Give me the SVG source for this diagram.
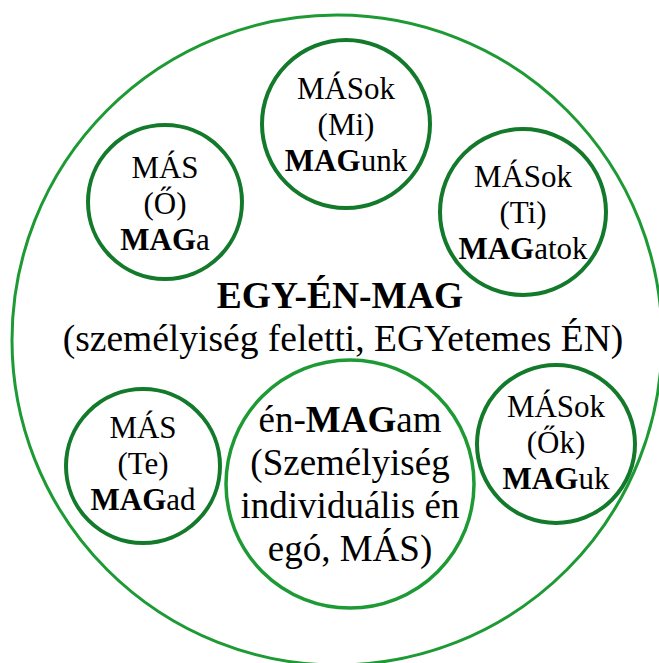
<svg xmlns="http://www.w3.org/2000/svg" width="659" height="663" viewBox="0 0 659 663">
<style>
text{font-family:"Liberation Serif","Times New Roman",serif;fill:#000;text-anchor:middle}
.s{font-size:31px}
.m{font-size:37px}
.l{font-size:37.5px}
.b{font-weight:bold}
.outer{fill:none;stroke:#1d9a34;stroke-width:3}
.dark{fill:#fff;stroke:#127a2a;stroke-width:4}
.bright{fill:#fff;stroke:#1d9a34;stroke-width:3.5}
</style>
<rect width="659" height="663" fill="#fff"/>
<g id="egy-en-mag">
<circle class="outer" cx="337" cy="340" r="325"/>
<text class="l b" x="340" y="308">EGY-ÉN-MAG</text>
<text class="l" x="343" y="351">(személyiség feletti, EGYetemes ÉN)</text>
</g>
<g id="mi">
<circle class="dark" cx="346" cy="124" r="84"/>
<text class="s" x="346" y="99">MÁSok</text>
<text class="s" x="346" y="135">(Mi)</text>
<text class="s" x="346" y="171"><tspan class="b">MAG</tspan>unk</text>
</g>
<g id="o">
<circle class="dark" cx="165" cy="202" r="77"/>
<text class="s" x="165" y="178">MÁS</text>
<text class="s" x="165" y="214">(Ő)</text>
<text class="s" x="165" y="250"><tspan class="b">MAG</tspan>a</text>
</g>
<g id="ti">
<circle class="dark" cx="523" cy="212" r="83"/>
<text class="s" x="523" y="187">MÁSok</text>
<text class="s" x="523" y="223">(Ti)</text>
<text class="s" x="523" y="259"><tspan class="b">MAG</tspan>atok</text>
</g>
<g id="ok">
<circle class="dark" cx="556" cy="444" r="79"/>
<text class="s" x="556" y="417">MÁSok</text>
<text class="s" x="556" y="453">(Ők)</text>
<text class="s" x="556" y="489"><tspan class="b">MAG</tspan>uk</text>
</g>
<g id="te">
<circle class="dark" cx="143" cy="466" r="77"/>
<text class="s" x="143" y="438">MÁS</text>
<text class="s" x="143" y="474">(Te)</text>
<text class="s" x="143" y="510"><tspan class="b">MAG</tspan>ad</text>
</g>
<g id="en-magam">
<circle class="bright" cx="350" cy="484" r="124"/>
<text class="m" x="350" y="432">én-<tspan class="b">MAG</tspan>am</text>
<text class="m" x="350" y="475">(Személyiség</text>
<text class="m" x="350" y="518">individuális én</text>
<text class="m" x="350" y="561">egó, MÁS)</text>
</g>
<g id="connectors"/>
</svg>
